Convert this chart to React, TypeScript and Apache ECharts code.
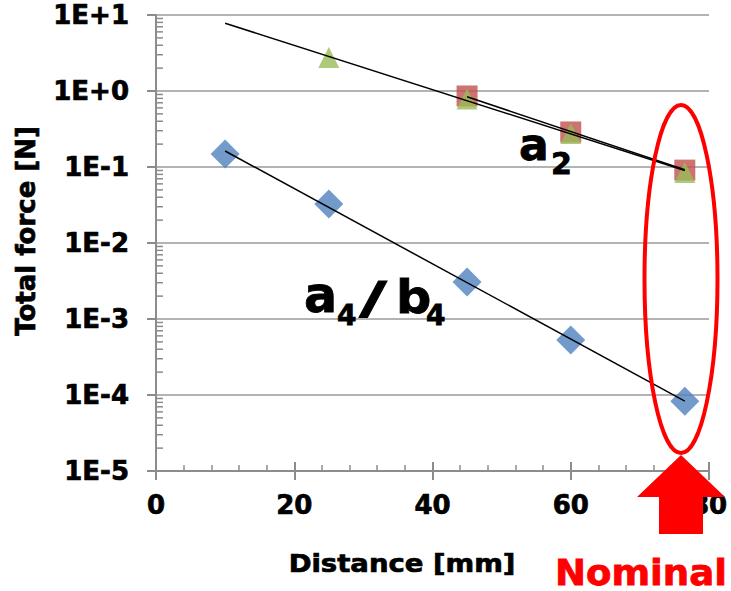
import React, { useEffect, useRef } from "react";
import * as echarts from "echarts";

// Axis settings
const xMin = 0;
const xMax = 80;
const xInterval = 20;
const yMin = 1e-5;
const yMax = 10;
const yDecades = [1e-5, 1e-4, 1e-3, 1e-2, 1e-1, 1];
const minorMultipliers = [2, 3, 4, 5, 6, 7, 8, 9];

// a4/b4 (blue diamonds)
const a4b4X = [10, 25, 45, 60, 76.5];
const a4b4Y = [0.148, 0.0326, 0.00307, 0.00053, 0.000083];
// a2 (red squares)
const a2SqX = [45, 60, 76.5];
const a2SqY = [0.86, 0.289, 0.091];
// a2 (green triangles)
const a2TriX = [25, 45, 60, 76.5];
const a2TriY = [2.75, 0.785, 0.276, 0.0847];
// trend lines (exponential fits; straight on log axis)
const trendTriX = [10, 76.5];
const trendTriY = [7.8, 0.09];
const trendSqX = [45, 76.5];
const trendSqY = [0.84, 0.092];
const trendA4X = [10, 76.5];
const trendA4Y = [0.1625, 0.000083];

const FONT = "DejaVu Sans";
const AXIS_GREY = "#8c8c8c";

const zip = (xs: number[], ys: number[]) => xs.map((x, i) => [x, ys[i]]);

const fmtLog = (v: number) => {
  const e = Math.round(Math.log10(v));
  return "1E" + (e >= 0 ? "+" : "-") + Math.abs(e);
};

const K = 0.346; // central-baseline offset ratio

function txt(
  s: string,
  left: number,
  baseline: number,
  fs: number,
  color = "#000",
  scaleX = 1,
  align: "left" | "center" = "left",
  stroke = 0.8
) {
  return {
    type: "text",
    x: left,
    y: baseline - K * fs,
    scaleX,
    z: 100,
    silent: true,
    style: {
      text: s,
      x: 0,
      y: 0,
      fontFamily: FONT,
      fontWeight: "bold",
      fontSize: fs,
      lineHeight: fs,
      fill: color,
      stroke: color,
      lineWidth: stroke,
      align,
      verticalAlign: "middle",
    },
  };
}

export default function App() {
  const ref = useRef<HTMLDivElement>(null);

  useEffect(() => {
    if (!ref.current) return;
    const chart = echarts.init(ref.current, undefined, { renderer: "svg" });

    const labelStyle = {
      fontFamily: FONT,
      fontWeight: "bold",
      fontSize: 26,
      color: "#000",
      textBorderColor: "#000",
      textBorderWidth: 0.7,
    };

    const annotations: any[] = [
      {
        type: "ellipse",
        z: 100,
        silent: true,
        shape: { cx: 681, cy: 279, rx: 36.5, ry: 174 },
        style: { fill: "none", stroke: "#FF0000", lineWidth: 4 },
      },
      {
        type: "polygon",
        z: 101,
        silent: true,
        shape: {
          points: [
            [681, 455],
            [725, 497],
            [703, 497],
            [703, 534],
            [659, 534],
            [659, 497],
            [637, 497],
          ],
        },
        style: { fill: "#FF0000" },
      },
      {
        type: "text",
        x: 26,
        y: 231,
        rotation: Math.PI / 2,
        z: 100,
        silent: true,
        style: {
          text: "Total force [N]",
          fontFamily: FONT,
          fontWeight: "bold",
          fontSize: 26,
          fill: "#000",
          stroke: "#000",
          lineWidth: 0.7,
          align: "center",
          verticalAlign: "middle",
        },
      },
      txt("Distance [mm]", 402, 572, 25, "#000", 1.1, "center", 0.7),
      txt("Nominal", 555, 585, 36, "#FF0000", 1.03, "left", 0.8),
      txt("a", 519, 159.5, 44),
      txt("2", 551, 174, 30),
      txt("a", 304, 312.5, 49, "#000", 1.0),
      txt("4", 337, 325, 28),
      txt("/", 359, 314, 45, "#000", 1.7),
      txt("b", 396, 312.5, 47, "#000", 1.05),
      txt("4", 426, 325, 28),
    ];

    const option: any = {
      animation: false,
      backgroundColor: "#fff",
      grid: { left: 156, right: 22, top: 15, bottom: 120, containLabel: false },
      xAxis: [
        {
          type: "value",
          min: xMin,
          max: xMax,
          interval: xInterval,
          position: "bottom",
          axisLine: { show: true, onZero: false, lineStyle: { color: AXIS_GREY, width: 2 } },
          axisTick: { show: true, length: 9, lineStyle: { color: AXIS_GREY, width: 2 } },
          axisLabel: { ...labelStyle, margin: 21 },
          splitLine: { show: false },
        },
        {
          type: "value",
          min: xMin,
          max: xMax,
          interval: xInterval,
          position: "bottom",
          axisLine: { show: false, onZero: false },
          axisTick: { show: true, inside: true, length: 9, lineStyle: { color: AXIS_GREY, width: 2 } },
          minorTick: { show: true, splitNumber: 5, length: 6, lineStyle: { color: AXIS_GREY, width: 1.5 } },
          axisLabel: { show: false },
          splitLine: { show: false },
        },
      ],
      yAxis: {
        type: "log",
        logBase: 10,
        min: yMin,
        max: yMax,
        splitNumber: 6,
        axisLine: { show: true, onZero: false, lineStyle: { color: AXIS_GREY, width: 2 } },
        axisTick: { show: true, length: 9, lineStyle: { color: AXIS_GREY, width: 2 } },
        axisLabel: { ...labelStyle, margin: 27, formatter: fmtLog },
        splitLine: { show: true, lineStyle: { color: "#9a9a9a", width: 1.5 } },
      },
      series: [
        {
          name: "y minor ticks",
          type: "custom",
          coordinateSystem: "cartesian2d",
          xAxisIndex: 0,
          yAxisIndex: 0,
          silent: true,
          clip: false,
          z: 5,
          data: yDecades.flatMap((d) => minorMultipliers.map((m) => [xMin, m * d])),
          encode: { x: 0, y: 1 },
          renderItem: (_p: any, api: any) => {
            const pt = api.coord([api.value(0), api.value(1)]);
            return {
              type: "line",
              shape: { x1: pt[0], y1: pt[1], x2: pt[0] + 7, y2: pt[1] },
              style: { stroke: AXIS_GREY, lineWidth: 1.5 },
            };
          },
        },
        {
          name: "a2 squares",
          type: "scatter",
          symbol: "rect",
          symbolSize: 21,
          itemStyle: { color: "#C0504D" },
          data: zip(a2SqX, a2SqY),
          z: 2,
        },
        {
          name: "a2 triangles",
          type: "scatter",
          symbol: "triangle",
          symbolSize: 21,
          itemStyle: { color: "#9BBB59" },
          data: zip(a2TriX, a2TriY),
          z: 3,
        },
        {
          name: "a4/b4",
          type: "scatter",
          symbol: "diamond",
          symbolSize: 29,
          itemStyle: { color: "#4F81BD" },
          data: zip(a4b4X, a4b4Y),
          z: 3,
        },
        {
          type: "line",
          showSymbol: false,
          silent: true,
          lineStyle: { color: "#000", width: 1.5 },
          data: zip(trendTriX, trendTriY),
          z: 4,
        },
        {
          type: "line",
          showSymbol: false,
          silent: true,
          lineStyle: { color: "#000", width: 1.5 },
          data: zip(trendSqX, trendSqY),
          z: 4,
        },
        {
          type: "line",
          showSymbol: false,
          silent: true,
          lineStyle: { color: "#000", width: 1.5 },
          data: zip(trendA4X, trendA4Y),
          z: 4,
        },
      ],
      graphic: annotations,
    };

    chart.setOption(option);
    return () => chart.dispose();
  }, []);

  return (
    <div
      ref={ref}
      style={{ position: "fixed", left: 0, top: 0, width: 731, height: 591, background: "#fff" }}
    />
  );
}
